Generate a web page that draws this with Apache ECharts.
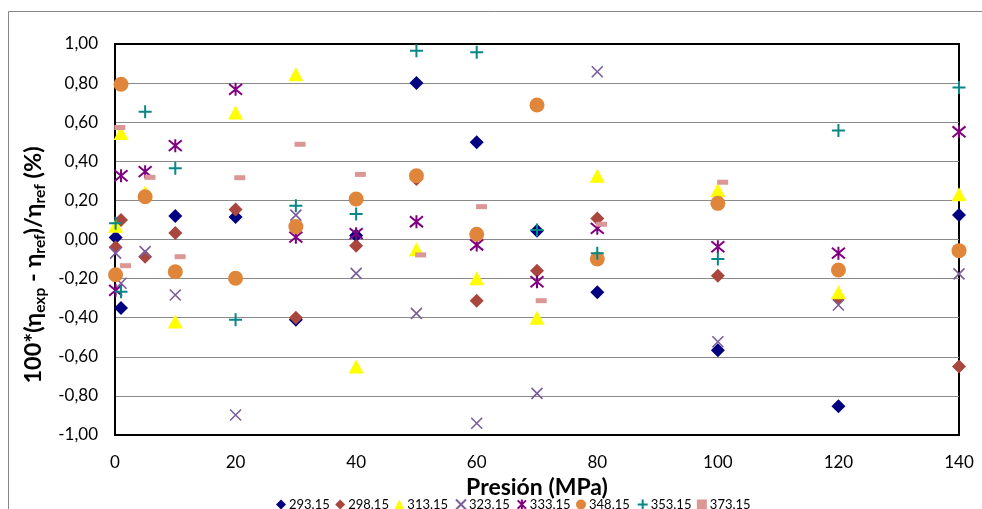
<!DOCTYPE html>
<html>
<head>
<meta charset="utf-8">
<script src="https://cdn.jsdelivr.net/npm/echarts@6/dist/echarts.min.js"></script>
<style>
  html, body { margin: 0; padding: 0; background: #fff; }
  #chart { width: 982px; height: 509px; }
</style>
</head>
<body>
<div id="chart"></div>
<script>
// Isotherm labels (K)
const temperatures = ['293.15', '298.15', '313.15', '323.15', '333.15', '348.15', '353.15', '373.15'];

// Pressures (MPa) shared by most isotherms
const pressures = [0.1, 1, 5, 10, 20, 30, 40, 50, 60, 70, 80, 100, 120, 140];
// Pressures of the 373.15 K isotherm
const pressures373 = [0.8, 1.75, 5.8, 10.8, 20.7, 30.7, 40.7, 50.7, 60.8, 70.7, 80.7, 100.8];

// Relative deviations 100*(eta_exp - eta_ref)/eta_ref (%)
const dev293 = [0.01, -0.35, null, 0.12, 0.115, -0.41, 0.02, 0.80, 0.497, 0.045, -0.27, -0.567, -0.853, 0.125];
const dev298 = [-0.04, 0.10, -0.088, 0.033, 0.154, -0.40, -0.032, 0.31, -0.313, -0.16, 0.108, -0.185, -0.30, -0.65];
const dev313 = [0.07, 0.545, 0.24, -0.42, 0.65, 0.845, -0.65, -0.05, -0.198, -0.40, 0.326, 0.253, -0.27, 0.231];
const dev323 = [-0.07, -0.224, -0.062, -0.284, -0.898, 0.125, -0.173, -0.378, -0.94, -0.787, 0.858, -0.523, -0.335, -0.176];
const dev333 = [-0.26, 0.326, 0.347, 0.48, 0.768, 0.012, 0.03, 0.091, -0.028, -0.216, 0.057, -0.037, -0.07, 0.551];
const dev348 = [-0.18, 0.794, 0.219, -0.165, -0.198, 0.066, 0.207, 0.326, 0.027, 0.688, -0.10, 0.185, -0.156, -0.057];
const dev353 = [0.083, -0.267, 0.654, 0.364, -0.41, 0.173, 0.13, 0.966, 0.958, 0.049, -0.07, -0.10, 0.557, 0.777];
const dev373 = [0.573, -0.134, 0.318, -0.088, 0.316, 0.487, 0.333, -0.079, 0.168, -0.313, 0.078, 0.293];

// Tick values of the axes
const xTicks = { min: 0, max: 140, step: 20 };
const yTicks = { min: -1, max: 1, step: 0.2 };

const FONT = 'Lato, "Open Sans", sans-serif';

function pairs(xs, ys) {
  const out = [];
  xs.forEach((x, i) => { if (ys[i] !== null && ys[i] !== undefined) out.push([x, ys[i]]); });
  return out;
}

// Marker look of every isotherm
const markers = [
  { symbol: 'diamond', size: 14, style: { color: '#000080' } },
  { symbol: 'diamond', size: 14, style: { color: '#A9463E' } },
  { symbol: 'triangle', size: [15, 14], style: { color: '#FFFF00' } },
  { symbol: 'path://M0,0L10,10M0,10L10,0', size: 11, style: { color: 'none', borderColor: '#7A5E9C', borderWidth: 1.6 } },
  { symbol: 'path://M0,0L10,10M0,10L10,0M5,-1L5,11', size: 13, style: { color: 'none', borderColor: '#800080', borderWidth: 2 } },
  { symbol: 'circle', size: 15, style: { color: '#E0863A' } },
  { symbol: 'path://M5,0L5,10M0,5L10,5', size: 13, style: { color: 'none', borderColor: '#088787', borderWidth: 2 } },
  { symbol: 'rect', size: [11, 5], style: { color: '#DA9795' } }
];

const seriesData = [
  pairs(pressures, dev293),
  pairs(pressures, dev298),
  pairs(pressures, dev313),
  pairs(pressures, dev323),
  pairs(pressures, dev333),
  pairs(pressures, dev348),
  pairs(pressures, dev353),
  pairs(pressures373, dev373)
];

const series = temperatures.map((name, i) => ({
  name: name,
  type: 'scatter',
  data: seriesData[i],
  symbol: markers[i].symbol,
  symbolSize: markers[i].size,
  itemStyle: Object.assign({ opacity: 1 }, markers[i].style),
  emphasis: { disabled: true },
  animation: false
}));

const chart = echarts.init(document.getElementById('chart'), null, { renderer: 'canvas' });

chart.setOption({
  backgroundColor: '#ffffff',
  animation: false,
  grid: {
    left: 115, right: 23, top: 44, bottom: 74,
    show: true, borderColor: '#000', borderWidth: 2, backgroundColor: 'transparent'
  },
  xAxis: {
    type: 'value',
    min: xTicks.min, max: xTicks.max, interval: xTicks.step,
    name: 'Presión (MPa)',
    nameLocation: 'middle',
    nameGap: 30,
    nameTextStyle: { fontFamily: FONT, fontWeight: 'bold', fontSize: 23, color: '#000' },
    axisLine: { show: true, onZero: false, lineStyle: { color: '#000', width: 2 } },
    axisTick: { show: false },
    splitLine: { show: false },
    axisLabel: { margin: 19, fontFamily: FONT, fontSize: 17, color: '#000' }
  },
  yAxis: {
    type: 'value',
    min: yTicks.min, max: yTicks.max, interval: yTicks.step,
    axisLine: { show: true, onZero: false, lineStyle: { color: '#000', width: 2 } },
    axisTick: { show: false },
    splitLine: { show: true, showMinLine: false, showMaxLine: false, lineStyle: { color: '#8A8A8A', width: 1 } },
    axisLabel: {
      margin: 17, fontFamily: FONT, fontSize: 17, color: '#000',
      formatter: v => v.toFixed(2).replace('.', ',')
    }
  },
  legend: {
    data: temperatures,
    left: 271, top: 492,
    itemWidth: 10, itemHeight: 10, itemGap: 5.4,
    textStyle: { fontFamily: FONT, fontSize: 13, color: '#000', padding: [0, 0, 0, -2] },
    selectedMode: false
  },
  graphic: [
    {
      type: 'rect', silent: true, z: -10,
      shape: { x: 8.5, y: 11.5, width: 1100, height: 700 },
      style: { fill: 'none', stroke: '#868686', lineWidth: 1 }
    },
    {
      type: 'text', silent: true,
      x: 33, y: 265, rotation: Math.PI / 2,
      style: {
        text: '{m|100*(η}{s|exp}{m| - η}{s|ref}{m|)/η}{s|ref}{m| (%)}',
        align: 'center', verticalAlign: 'middle',
        rich: {
          m: { fontFamily: FONT, fontWeight: 'bold', fontSize: 23.5, lineHeight: 30, fill: '#000' },
          s: { fontFamily: FONT, fontWeight: 'bold', fontSize: 15.5, lineHeight: 12, verticalAlign: 'bottom', fill: '#000' }
        }
      }
    }
  ],
  series: series
});
</script>
</body>
</html>
